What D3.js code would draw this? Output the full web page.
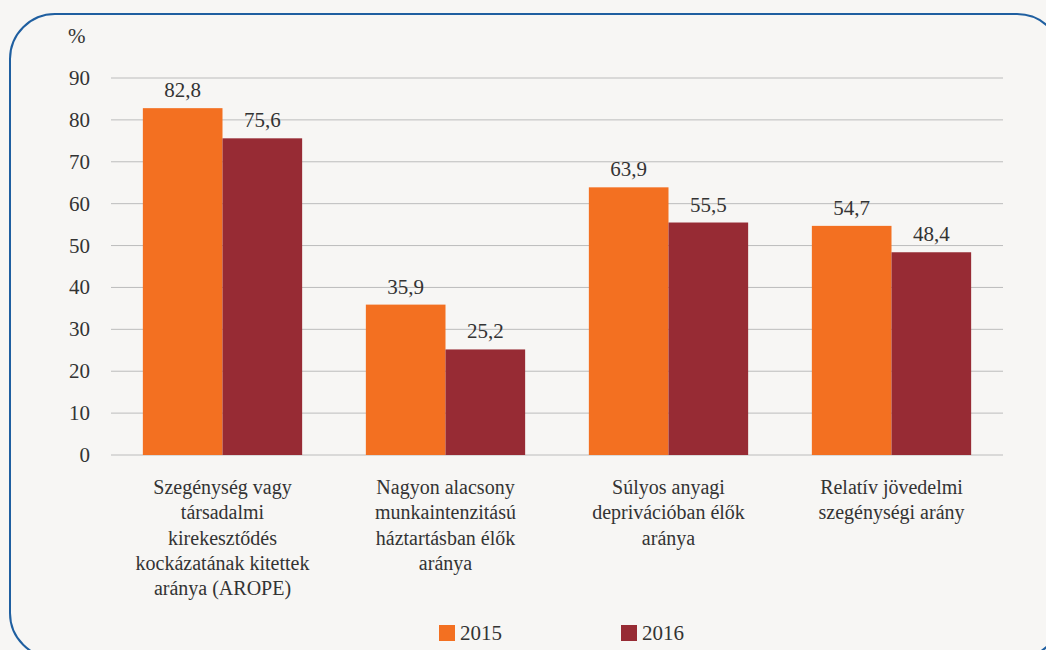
<!DOCTYPE html>
<html>
<head>
<meta charset="utf-8">
<script src="https://cdn.jsdelivr.net/npm/d3@7"></script>
</head>
<body style="margin:0;background:#f7f6f4">
<svg width="1046" height="650" style="display:block;font-family:'Liberation Serif','Times New Roman',serif"></svg>
<script>
const categories = [
  ["Szegénység vagy", "társadalmi", "kirekesztődés", "kockázatának kitettek", "aránya (AROPE)"],
  ["Nagyon alacsony", "munkaintenzitású", "háztartásban élők", "aránya"],
  ["Súlyos anyagi", "deprivációban élők", "aránya"],
  ["Relatív jövedelmi", "szegénységi arány"]
];
const years = ["2015", "2016"];
const values2015 = [82.8, 35.9, 63.9, 54.7];
const values2016 = [75.6, 25.2, 55.5, 48.4];
const yTicks = [0, 10, 20, 30, 40, 50, 60, 70, 80, 90];
const colors = ["#f37021", "#972b34"];
const font = "'Liberation Serif', 'Times New Roman', serif";

const svg = d3.select("svg");

svg.append("rect")
  .attr("x", 10).attr("y", 14)
  .attr("width", 1052).attr("height", 644)
  .attr("rx", 45).attr("ry", 45)
  .attr("fill", "#f7f6f4")
  .attr("stroke", "#1f5fa0")
  .attr("stroke-width", 2);

const plotLeft = 111, plotRight = 1003, plotTop = 78, plotBottom = 455;

const y = d3.scaleLinear().domain([0, 90]).range([plotBottom, plotTop]);
const x = d3.scaleBand().domain(d3.range(categories.length)).range([plotLeft, plotRight]);
const xi = d3.scaleBand().domain(years).range([0, x.bandwidth()]).paddingOuter(0.4).paddingInner(0);

// gridlines
svg.append("g").selectAll("line")
  .data(yTicks)
  .join("line")
  .attr("x1", plotLeft).attr("x2", plotRight)
  .attr("y1", d => y(d)).attr("y2", d => y(d))
  .attr("stroke", "#bcbcbc")
  .attr("stroke-width", 1);

// y labels
svg.append("g").selectAll("text")
  .data(yTicks)
  .join("text")
  .attr("x", 90)
  .attr("y", d => y(d) + 7)
  .attr("text-anchor", "end")
  .attr("font-size", 21)
  .text(d => d);

svg.append("text")
  .attr("x", 68).attr("y", 43)
  .attr("font-size", 21)
  .text("%");

const rows = categories.map((c, i) => [
  { year: "2015", value: values2015[i], i },
  { year: "2016", value: values2016[i], i }
]).flat();

svg.append("g").selectAll("rect")
  .data(rows)
  .join("rect")
  .attr("x", d => x(d.i) + xi(d.year))
  .attr("width", xi.bandwidth())
  .attr("y", d => y(d.value))
  .attr("height", d => y(0) - y(d.value))
  .attr("fill", d => colors[years.indexOf(d.year)]);

svg.append("g").selectAll("text")
  .data(rows)
  .join("text")
  .attr("x", d => x(d.i) + xi(d.year) + xi.bandwidth() / 2)
  .attr("y", d => y(d.value) - 11)
  .attr("text-anchor", "middle")
  .attr("font-size", 21)
  .text(d => d.value.toFixed(1).replace(".", ","));

// category labels
const cat = svg.append("g").selectAll("text")
  .data(categories)
  .join("text")
  .attr("text-anchor", "middle")
  .attr("font-size", 20);
cat.each(function(lines, i) {
  d3.select(this).selectAll("tspan")
    .data(lines)
    .join("tspan")
    .attr("x", x(i) + x.bandwidth() / 2)
    .attr("y", (d, j) => 494 + j * 25.3)
    .text(d => d);
});

// legend
const legendX = [439, 621];
const lg = svg.append("g").selectAll("g")
  .data(years)
  .join("g")
  .attr("transform", (d, i) => `translate(${legendX[i]},625)`);
lg.append("rect")
  .attr("width", 16).attr("height", 16)
  .attr("fill", (d, i) => colors[i]);
lg.append("text")
  .attr("x", 21).attr("y", 15)
  .attr("font-size", 21)
  .text(d => d);

svg.selectAll("text")
  .attr("font-family", font)
  .style("font-family", font)
  .attr("fill", "#333");
</script>
</body>
</html>
